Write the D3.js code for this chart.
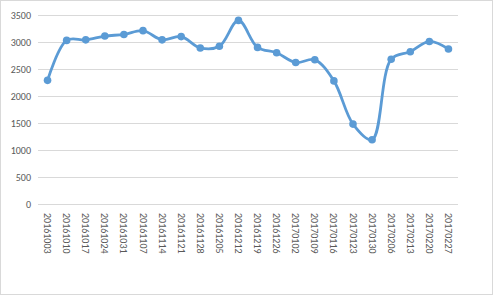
<!DOCTYPE html>
<html>
<head>
<meta charset="utf-8">
<script src="https://cdn.jsdelivr.net/npm/d3@7"></script>
<style>
  body { margin: 0; background: #fff; }
  text { font-family: Calibri, Carlito, "Liberation Sans", Arial, sans-serif; fill: #595959; }
</style>
</head>
<body>
<div id="chart"></div>
<script>
// weekly dates and values
const dates = ["20161003", "20161010", "20161017", "20161024", "20161031", "20161107",
    "20161114", "20161121", "20161128", "20161205", "20161212", "20161219",
    "20161226", "20170102", "20170109", "20170116", "20170123", "20170130",
    "20170206", "20170213", "20170220", "20170227"];
const values = [2290, 3030, 3040, 3110, 3140, 3210, 3040, 3100, 2890, 2920, 3400, 2900,
    2800, 2620, 2670, 2280, 1480, 1190, 2680, 2820, 3010, 2870];
const yTicks = [0, 500, 1000, 1500, 2000, 2500, 3000, 3500];

const width = 493, height = 295;

const svg = d3.select("#chart")
    .append("svg")
    .attr("width", width)
    .attr("height", height);

// chart area border
svg.append("rect")
    .attr("x", 0.5).attr("y", 0.5)
    .attr("width", width - 1).attr("height", height - 1)
    .attr("fill", "#fff")
    .attr("stroke", "#d9d9d9");

const x = d3.scaleBand()
    .domain(dates)
    .range([38, 458]);

const y = d3.scaleLinear()
    .domain([0, 3500])
    .range([204, 15]);

// gridlines
svg.selectAll(".grid")
    .data(yTicks)
    .join("line")
    .attr("class", "grid")
    .attr("x1", 38).attr("x2", 458)
    .attr("y1", d => Math.round(y(d)) + 0.5)
    .attr("y2", d => Math.round(y(d)) + 0.5)
    .attr("stroke", "#d9d9d9")
    .attr("stroke-width", 1);

// y labels
svg.selectAll(".ylab")
    .data(yTicks)
    .join("text")
    .attr("class", "ylab")
    .attr("x", 31)
    .attr("y", d => y(d))
    .attr("dy", "0.35em")
    .attr("text-anchor", "end")
    .style("font-size", "10px")
    .text(d => d);

// x labels, rotated to read downward
svg.selectAll(".xlab")
    .data(dates)
    .join("text")
    .attr("class", "xlab")
    .attr("transform", d => `translate(${x(d) + x.bandwidth() / 2},213) rotate(90)`)
    .attr("dy", "0.35em")
    .attr("text-anchor", "start")
    .style("font-size", "10px")
    .text(d => d);

const line = d3.line()
    .x((d, i) => x(dates[i]) + x.bandwidth() / 2)
    .y(d => y(d))
    .curve(d3.curveCatmullRom.alpha(0.5));

svg.append("path")
    .datum(values)
    .attr("d", line)
    .attr("fill", "none")
    .attr("stroke", "#5b9bd5")
    .attr("stroke-width", 2.8)
    .attr("stroke-linecap", "round");

svg.selectAll(".dot")
    .data(values)
    .join("circle")
    .attr("class", "dot")
    .attr("cx", (d, i) => x(dates[i]) + x.bandwidth() / 2)
    .attr("cy", d => y(d))
    .attr("r", 3.8)
    .attr("fill", "#5b9bd5");
</script>
</body>
</html>
